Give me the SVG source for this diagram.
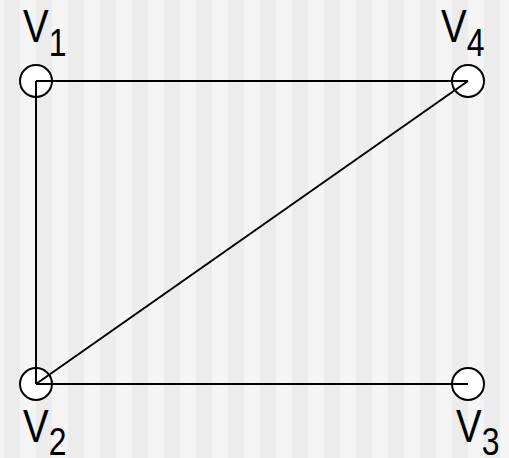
<svg xmlns="http://www.w3.org/2000/svg" width="509" height="458" viewBox="0 0 509 458">
<defs>
<pattern id="stripes" x="4" y="0" width="32" height="458" patternUnits="userSpaceOnUse">
<rect x="0" y="0" width="16" height="458" fill="#ececec"/>
<rect x="16" y="0" width="16" height="458" fill="#f5f5f5"/>
</pattern>
</defs>
<style>
.edge{stroke:#000;stroke-width:2;fill:none}
.node circle{fill:#fff;stroke:#000;stroke-width:2}
.lbl{font-family:"Liberation Sans",Arial,sans-serif;font-size:47px;fill:#000}
.sub{font-size:39px}
</style>
<rect x="0" y="0" width="509" height="458" fill="url(#stripes)"/>
<g id="v1" class="node"><circle cx="36" cy="81" r="16"/><text class="lbl" transform="translate(23,42) scale(0.82,1)">V<tspan class="sub" dy="14">1</tspan></text></g>
<g id="v4" class="node"><circle cx="468" cy="81" r="16"/><text class="lbl" transform="translate(441,42) scale(0.82,1)">V<tspan class="sub" dy="14">4</tspan></text></g>
<g id="v2" class="node"><circle cx="36" cy="384" r="16"/><text class="lbl" transform="translate(23,442) scale(0.82,1)">V<tspan class="sub" dy="13">2</tspan></text></g>
<g id="v3" class="node"><circle cx="468" cy="384" r="16"/><text class="lbl" transform="translate(456,442) scale(0.82,1)">V<tspan class="sub" dy="13">3</tspan></text></g>
<g id="edges">
<line class="edge" x1="36" y1="81" x2="468" y2="81"/>
<line class="edge" x1="36" y1="81" x2="36" y2="384"/>
<line class="edge" x1="36" y1="384" x2="468" y2="81"/>
<line class="edge" x1="36" y1="384" x2="468" y2="384"/>
</g>
</svg>
